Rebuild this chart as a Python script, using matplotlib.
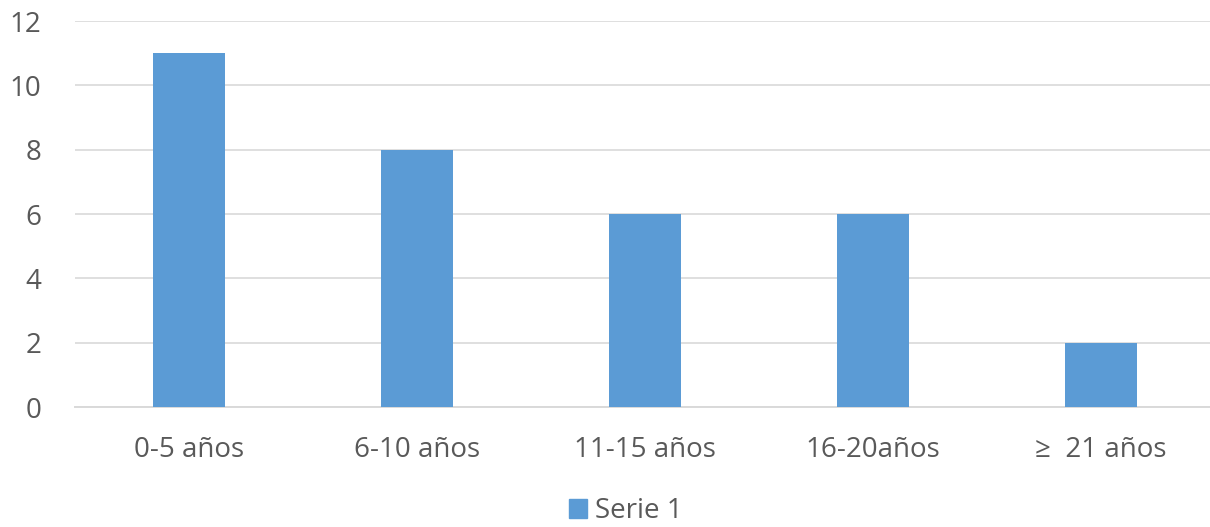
import matplotlib
matplotlib.use("Agg")
import matplotlib.pyplot as plt
from matplotlib.patches import Patch

# data
categories = ["0-5 años", "6-10 años", "11-15 años", "16-20años", "≥  21 años"]
values = [11, 8, 6, 6, 2]
series_name = "Serie 1"

BAR_COLOR = "#5b9bd5"
TEXT_COLOR = "#595959"
GRID_COLOR = "#d9d9d9"

plt.rcParams["font.family"] = ["Open Sans", "DejaVu Sans"]

fig = plt.figure(figsize=(12.10, 5.27), dpi=100)
fig.patch.set_facecolor("white")
# plot area runs past the right edge, gridlines go to the image border
ax = fig.add_axes([0.062, 0.2277, 0.9418, 0.7323])

x = range(len(categories))
ax.bar(x, values, width=0.316, color=BAR_COLOR, zorder=3)

ax.set_xlim(-0.5, len(categories) - 0.5)
ax.set_ylim(0, 12)
ax.set_yticks(range(0, 13, 2))
ax.set_xticks(list(x))
ax.set_xticklabels(categories)

ax.grid(axis="y", color=GRID_COLOR, linewidth=1.2, zorder=0)
for side in ("top", "right", "left"):
    ax.spines[side].set_visible(False)
ax.spines["bottom"].set_color(GRID_COLOR)
ax.spines["bottom"].set_linewidth(1.4)

ax.tick_params(axis="both", length=0, labelsize=20, colors=TEXT_COLOR)
ax.tick_params(axis="x", pad=21)
ax.tick_params(axis="y", pad=24)

fig.legend(
    [Patch(color=BAR_COLOR)],
    [series_name],
    loc="center",
    bbox_to_anchor=(0.517, 0.030),
    frameon=False,
    fontsize=20,
    labelcolor=TEXT_COLOR,
    handlelength=0.65,
    handleheight=0.65,
    handletextpad=0.3,
)

fig.savefig("out.png", dpi=100, facecolor="white")
